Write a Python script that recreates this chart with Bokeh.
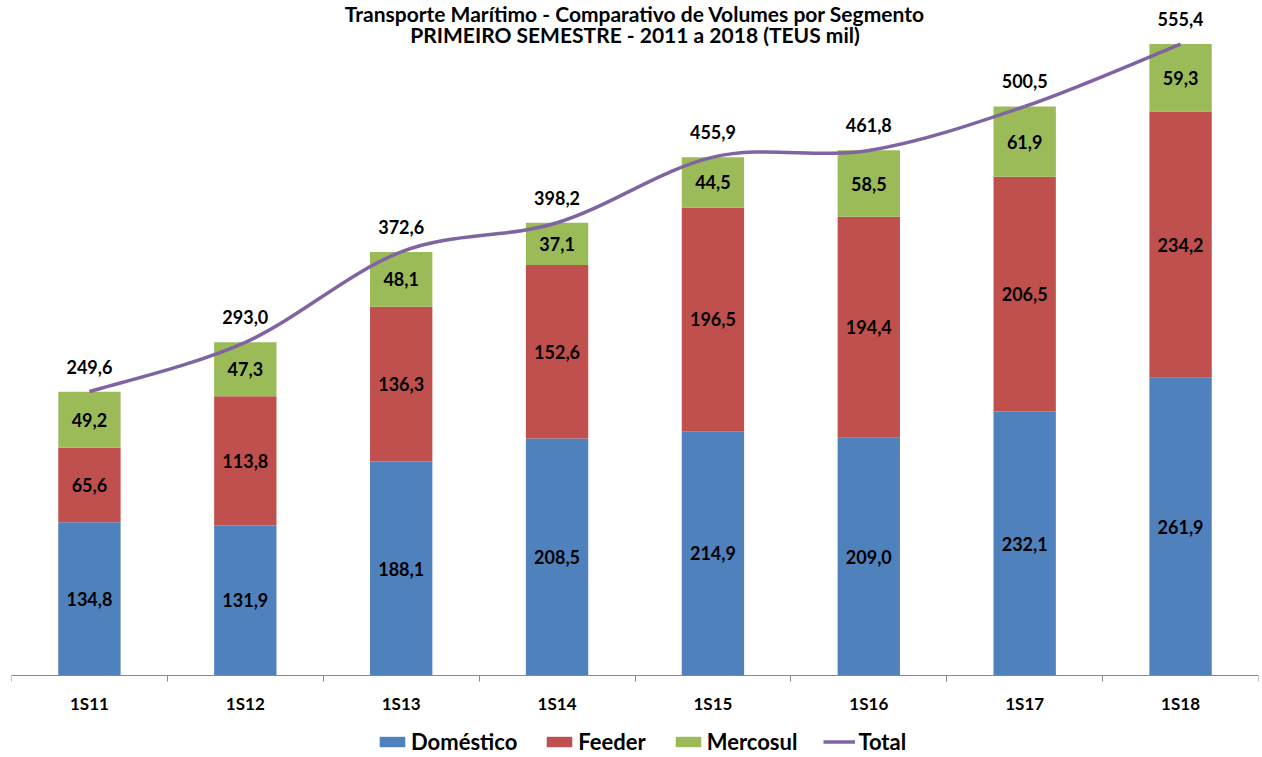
from bokeh.plotting import figure
from bokeh.models import (ColumnDataSource, FixedTicker, Label, Legend, LegendItem,
                          Range1d)
from bokeh.core.properties import value
from bokeh.embed import file_html
from bokeh.resources import INLINE

categories = ["1S11", "1S12", "1S13", "1S14", "1S15", "1S16", "1S17", "1S18"]
domestico = [134.8, 131.9, 188.1, 208.5, 214.9, 209.0, 232.1, 261.9]
feeder = [65.6, 113.8, 136.3, 152.6, 196.5, 194.4, 206.5, 234.2]
mercosul = [49.2, 47.3, 48.1, 37.1, 44.5, 58.5, 61.9, 59.3]
total = [249.6, 293.0, 372.6, 398.2, 455.9, 461.8, 500.5, 555.4]

title1 = "Transporte Marítimo - Comparativo de Volumes por Segmento"
title2 = "PRIMEIRO SEMESTRE - 2011 a 2018 (TEUS mil)"

BLUE, RED, GREEN, PURPLE = "#4F81BD", "#C0504D", "#9BBB59", "#8064A2"
FONT = "Lato"

def fmt(v):
    return f"{v:.1f}".replace(".", ",")

n = len(categories)
xs = [i + 0.5 for i in range(n)]

p = figure(width=1260, height=755, output_backend="svg", toolbar_location=None,
           x_range=Range1d(0, n), y_range=Range1d(-70.4, 593.7),
           min_border_left=11, min_border_right=2, min_border_top=0,
           min_border_bottom=0)
p.outline_line_color = None
p.grid.visible = False
p.yaxis.visible = False

ax = p.xaxis[0]
ax.fixed_location = 0
ax.ticker = FixedTicker(ticks=xs, minor_ticks=list(range(n + 1)))
ax.major_label_overrides = {x: c for x, c in zip(xs, categories)}
ax.major_tick_out = 0
ax.major_tick_in = 0
ax.minor_tick_out = 6
ax.minor_tick_in = 0
ax.minor_tick_line_color = "#888888"
ax.axis_line_color = "#888888"
ax.major_label_text_font = FONT
ax.major_label_text_font_style = "bold"
ax.major_label_text_font_size = "17px"
ax.major_label_text_color = "black"
ax.major_label_standoff = 12

src = ColumnDataSource(dict(x=xs, domestico=domestico, feeder=feeder,
                            mercosul=mercosul, total=total))
bars = p.vbar_stack(["domestico", "feeder", "mercosul"], x="x", width=0.4,
                    color=[BLUE, RED, GREEN], line_color=None, source=src)

# segment labels
bottoms = [0.0] * n
lab_x, lab_y, lab_t = [], [], []
for series in (domestico, feeder, mercosul):
    for i, v in enumerate(series):
        lab_x.append(xs[i])
        lab_y.append(bottoms[i] + v / 2)
        lab_t.append(fmt(v))
        bottoms[i] += v
p.text(x=lab_x, y=lab_y, text=lab_t, text_align="center", text_baseline="middle",
       text_font=value(FONT), text_font_style="bold", text_font_size="18px",
       text_color="black")

# smoothed total line (Catmull-Rom through the data points)
P = list(zip(xs, total))
x0, y0, x1, y1, cx0, cy0, cx1, cy1 = [], [], [], [], [], [], [], []
for i in range(n - 1):
    pm = P[i - 1] if i > 0 else P[i]
    pa, pb = P[i], P[i + 1]
    pn = P[i + 2] if i + 2 < n else P[i + 1]
    x0.append(pa[0]); y0.append(pa[1]); x1.append(pb[0]); y1.append(pb[1])
    cx0.append(pa[0] + (pb[0] - pm[0]) / 6); cy0.append(pa[1] + (pb[1] - pm[1]) / 6)
    cx1.append(pb[0] - (pn[0] - pa[0]) / 6); cy1.append(pb[1] - (pn[1] - pa[1]) / 6)
p.bezier(x0=x0, y0=y0, x1=x1, y1=y1, cx0=cx0, cy0=cy0, cx1=cx1, cy1=cy1,
         line_color=PURPLE, line_width=3.5)
line_r = p.line(x=xs, y=total, line_color=PURPLE, line_width=3.5, visible=False)

p.text(x=xs, y=total, text=[fmt(v) for v in total], text_align="center",
       text_baseline="middle", y_offset=-25, text_font=value(FONT),
       text_font_style="bold", text_font_size="18px", text_color="black")

for txt, yy in ((title1, 582.6), (title2, 564.2)):
    p.add_layout(Label(x=n / 2, y=yy, text=txt, text_align="center",
                       text_baseline="middle", text_font=FONT,
                       text_font_style="bold", text_font_size="21px",
                       text_color="black"))

legend = Legend(items=[LegendItem(label="Doméstico", renderers=[bars[0]]),
                       LegendItem(label="Feeder", renderers=[bars[1]]),
                       LegendItem(label="Mercosul", renderers=[bars[2]]),
                       LegendItem(label="Total", renderers=[line_r])],
                orientation="horizontal", location=(365, 0),
                label_text_font=FONT, label_text_font_style="bold",
                label_text_font_size="22px", label_text_color="black",
                glyph_width=32, glyph_height=13, label_standoff=3, spacing=26,
                label_height=22, padding=0, margin=0, border_line_color=None,
                background_fill_alpha=0)
p.add_layout(legend)

open("out.html", "w").write(file_html(p, INLINE))
